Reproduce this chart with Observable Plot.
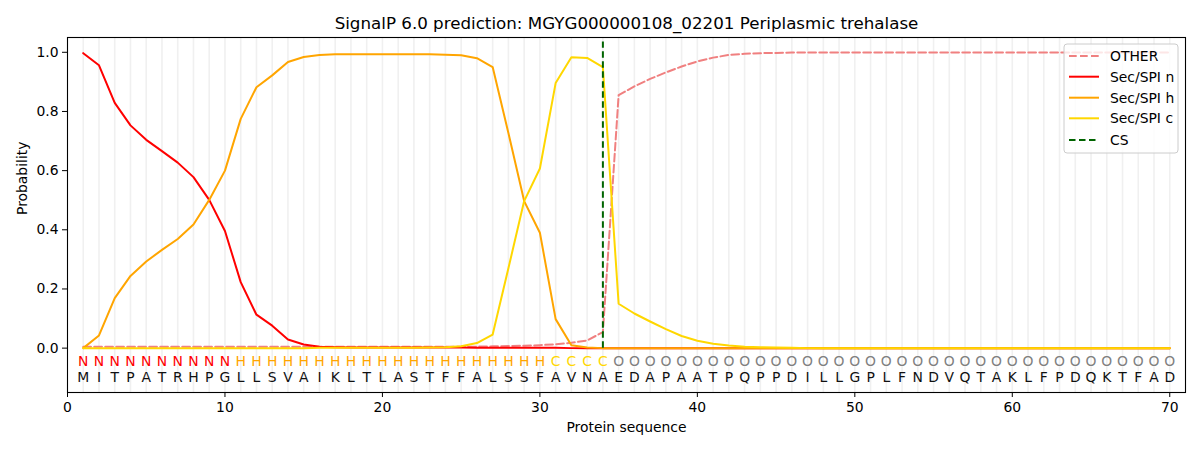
<!DOCTYPE html>
<html>
<head>
<meta charset="utf-8">
<script src="https://cdn.jsdelivr.net/npm/d3@7"></script>
<script src="https://cdn.jsdelivr.net/npm/@observablehq/plot@0.6"></script>
<style>
  body { margin: 0; background: #fff; }
  #wrap { position: relative; width: 1200px; height: 450px; font-family: "DejaVu Sans", sans-serif; }
  #legend { position: absolute; left: 1063px; top: 43px; }
</style>
</head>
<body>
<div id="wrap"></div>
<script>
const title = "SignalP 6.0 prediction: MGYG000000108_02201 Periplasmic trehalase";
const residues = "MITPATRHPGLLSVAIKLTLASTFFALSSFAVNAEDAPAATPQPPDILLGPLFNDVQTAKLFPDQKTFAD".split("");
const states = "NNNNNNNNNNHHHHHHHHHHHHHHHHHHHHCCCCOOOOOOOOOOOOOOOOOOOOOOOOOOOOOOOOOOOO".split("");
const positions = d3.range(1, 71);
const xTicks = [0, 10, 20, 30, 40, 50, 60, 70];
const yTicks = [0, 0.2, 0.4, 0.6, 0.8, 1.0];
const csPos = 34;

const other = [
  0.005,0.005,0.005,0.005,0.005,0.005,0.005,0.005,0.005,0.005,
  0.005,0.005,0.005,0.005,0.005,0.005,0.005,0.005,0.005,0.005,
  0.005,0.005,0.005,0.005,0.005,0.005,0.006,0.007,0.008,0.010,
  0.013,0.018,0.026,0.054,0.855,0.885,0.910,0.932,0.952,0.969,
  0.982,0.991,0.995,0.997,0.998,0.999,0.999,0.999,0.999,0.999,
  0.999,0.999,0.999,0.999,0.999,0.999,0.999,0.999,0.999,0.999,
  0.999,0.999,0.999,0.999,0.999,0.999,0.999,0.999,0.999,0.999
];
const secN = [
  0.997,0.956,0.829,0.753,0.704,0.666,0.627,0.578,0.501,0.396,
  0.223,0.113,0.076,0.029,0.012,0.005,0.003,0.002,0.002,0.002,
  0.002,0.002,0.002,0.002,0.002,0.001,0.001,0.001,0.001,0.001,
  0.001,0,0,0,0,0,0,0,0,0,
  0,0,0,0,0,0,0,0,0,0,
  0,0,0,0,0,0,0,0,0,0,
  0,0,0,0,0,0,0,0,0,0
];
const secH = [
  0.000,0.043,0.169,0.244,0.293,0.332,0.369,0.418,0.501,0.600,
  0.775,0.882,0.922,0.967,0.984,0.991,0.993,0.993,0.993,0.993,
  0.993,0.993,0.993,0.992,0.990,0.980,0.950,0.727,0.497,0.390,
  0.098,0.010,0.002,0,0,0,0,0,0,0,
  0,0,0,0,0,0,0,0,0,0,
  0,0,0,0,0,0,0,0,0,0,
  0,0,0,0,0,0,0,0,0,0
];
const secC = [
  0,0,0,0,0,0,0,0,0,0,
  0,0,0,0,0,0.001,0.001,0.001,0.001,0.001,
  0.001,0.001,0.002,0.003,0.006,0.017,0.046,0.270,0.497,0.607,
  0.896,0.983,0.981,0.950,0.150,0.117,0.090,0.064,0.041,0.025,
  0.015,0.009,0.005,0.003,0.002,0.001,0,0,0,0,
  0,0,0,0,0,0,0,0,0,0,
  0,0,0,0,0,0,0,0,0,0
];

const stateColor = {N: "red", H: "orange", C: "gold", O: "gray"};
const series = [
  {name: "OTHER", values: other, color: "lightcoral", dash: "7.7,3.3"},
  {name: "Sec/SPI n", values: secN, color: "red", dash: null},
  {name: "Sec/SPI h", values: secH, color: "orange", dash: null},
  {name: "Sec/SPI c", values: secC, color: "gold", dash: null}
];

const font = "DejaVu Sans";
const fs = 13.9;

const marks = [
  Plot.ruleX(positions, {x: d => d, stroke: "#f0f0f0", strokeWidth: 1.6}),
  ...series.map(s => Plot.line(s.values, {
    x: (d, i) => positions[i], y: d => d,
    stroke: s.color, strokeWidth: 2, strokeDasharray: s.dash || undefined
  })),
  Plot.ruleX([csPos], {x: d => d, y1: 0, y2: 1.035, stroke: "darkgreen", strokeWidth: 2, strokeDasharray: "6.5,3.5"}),
  Plot.text(states, {x: (d, i) => positions[i], y: () => -0.045, text: d => d, fill: d => stateColor[d], fontSize: fs, lineAnchor: "middle"}),
  Plot.text(residues, {x: (d, i) => positions[i], y: () => -0.098, text: d => d, fill: "#111", fontSize: fs, lineAnchor: "middle"}),
  Plot.frame({stroke: "black", strokeWidth: 1.1}),
  Plot.axisY({ticks: yTicks, tickFormat: d => d.toFixed(1), tickSize: 5, tickPadding: 4, label: null, fontSize: fs}),
  Plot.axisX({ticks: xTicks, tickFormat: d => String(d), tickSize: 5, tickPadding: 5, label: null, fontSize: fs}),
  Plot.text([title], {frameAnchor: "top", dy: -14, fontSize: 16.7, lineAnchor: "middle", fill: "black"}),
  Plot.text(["Probability"], {frameAnchor: "left", dx: -45, rotate: -90, fontSize: fs, lineAnchor: "middle", fill: "black"}),
  Plot.text(["Protein sequence"], {frameAnchor: "bottom", dy: 35, fontSize: fs, lineAnchor: "middle", fill: "black"})
];

const chart = Plot.plot({
  width: 1200,
  height: 450,
  marginLeft: 67,
  marginRight: 15,
  marginTop: 37,
  marginBottom: 58,
  x: {domain: [0, 71]},
  y: {domain: [-0.15, 1.05]},
  color: {type: "identity"},
  style: {fontFamily: font, fontSize: fs + "px", color: "black", background: "white", overflow: "visible"},
  marks
});

const wrap = document.getElementById("wrap");
wrap.appendChild(chart);

// legend overlay
const lg = d3.select(wrap).append("svg").attr("id", "legend").attr("width", 117).attr("height", 112);
lg.append("rect").attr("x", 1).attr("y", 1).attr("width", 114).attr("height", 109).attr("rx", 3)
  .attr("fill", "white").attr("fill-opacity", 0.8).attr("stroke", "#cccccc");
const legendItems = [
  ...series.map(s => ({name: s.name, color: s.color, dash: s.dash})),
  {name: "CS", color: "darkgreen", dash: "6.5,3.5"}
];
const rowY = [13, 33.7, 54.7, 75.3, 97];
legendItems.forEach((it, i) => {
  lg.append("line").attr("x1", 6).attr("x2", 36).attr("y1", rowY[i]).attr("y2", rowY[i])
    .attr("stroke", it.color).attr("stroke-width", 2).attr("stroke-dasharray", it.dash || null);
  lg.append("text").attr("x", 47).attr("y", rowY[i]).attr("dy", "0.35em")
    .attr("font-family", font).attr("font-size", fs).attr("fill", "black").text(it.name);
});
</script>
</body>
</html>
